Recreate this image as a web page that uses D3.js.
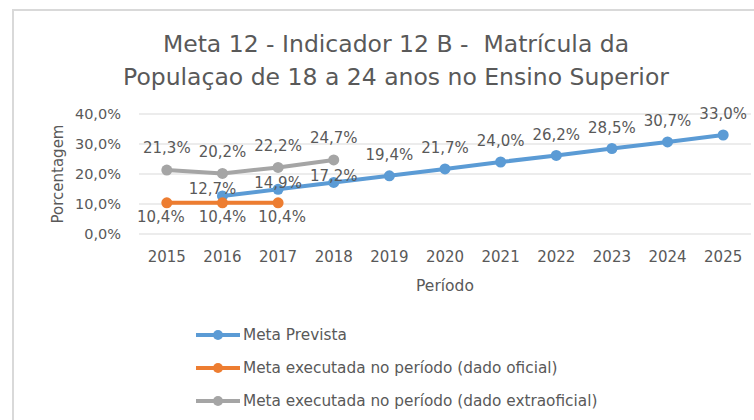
<!DOCTYPE html>
<html>
<head>
<meta charset="utf-8">
<script src="https://cdn.jsdelivr.net/npm/d3@7"></script>
<style>
  body { margin: 0; background: #fff; }
  text { font-family: "DejaVu Sans", sans-serif; fill: #595959; }
</style>
</head>
<body>
<svg id="chart" width="754" height="420"></svg>
<script>
// categories (years) and series values
const years = ['2015', '2016', '2017', '2018', '2019', '2020', '2021', '2022', '2023', '2024', '2025'];
const metaPrevista = [null, 12.7, 14.9, 17.2, 19.4, 21.7, 24.0, 26.2, 28.5, 30.7, 33.0];
const metaOficial = [10.4, 10.4, 10.4, null, null, null, null, null, null, null, null];
const metaExtraoficial = [21.3, 20.2, 22.2, 24.7, null, null, null, null, null, null, null];
const yTicks = [0, 10, 20, 30, 40];

const seriesNames = ['Meta Prevista', 'Meta executada no período (dado oficial)', 'Meta executada no período (dado extraoficial)'];
const seriesColors = ['#5b9bd5', '#ed7d31', '#a5a5a5'];

const svg = d3.select('#chart');
const fmt = v => d3.format('.1f')(v).replace('.', ',') + '%';

// outer border of the chart area
svg.append('rect')
    .attr('x', 13).attr('y', 10)
    .attr('width', 800).attr('height', 450)
    .attr('fill', 'none')
    .attr('stroke', '#d9d9d9')
    .attr('stroke-width', 2);

// title (two lines, keeps the double space)
const title = svg.append('text')
    .attr('text-anchor', 'middle')
    .style('font-size', '23.5px')
    .style('white-space', 'pre');
title.append('tspan').attr('x', 396).attr('y', 52).text('Meta 12 - Indicador 12 B -  Matrícula da');
title.append('tspan').attr('x', 396).attr('y', 85).text('Populaçao de 18 a 24 anos no Ensino Superior');

const x = d3.scaleBand().domain(years).range([139, 751]);
const y = d3.scaleLinear().domain([0, 40]).range([234, 114]);
const cx = d => x(d) + x.bandwidth() / 2;

// gridlines
svg.append('g').selectAll('line')
    .data(yTicks)
    .join('line')
    .attr('x1', 139).attr('x2', 751)
    .attr('y1', d => y(d)).attr('y2', d => y(d))
    .attr('stroke', '#d9d9d9')
    .attr('stroke-width', 1);

// y axis labels
svg.append('g').selectAll('text')
    .data(yTicks)
    .join('text')
    .attr('x', 121)
    .attr('y', d => y(d))
    .attr('dy', '0.35em')
    .attr('text-anchor', 'end')
    .style('font-size', '14.5px')
    .text(d => fmt(d));

// x axis labels
svg.append('g').selectAll('text')
    .data(years)
    .join('text')
    .attr('x', d => cx(d))
    .attr('y', 262)
    .attr('text-anchor', 'middle')
    .style('font-size', '15px')
    .text(d => d);

// axis titles
svg.append('text')
    .attr('transform', 'translate(63,174) rotate(-90)')
    .attr('text-anchor', 'middle')
    .style('font-size', '15px')
    .text('Porcentagem');
svg.append('text')
    .attr('x', 445).attr('y', 291)
    .attr('text-anchor', 'middle')
    .style('font-size', '15.5px')
    .text('Período');

// draw one line series with markers
function drawSeries(values, color) {
    const pts = years.map((yr, i) => ({ yr, v: values[i] })).filter(p => p.v !== null);
    const line = d3.line().x(p => cx(p.yr)).y(p => y(p.v));
    svg.append('path')
        .datum(pts)
        .attr('d', line)
        .attr('fill', 'none')
        .attr('stroke', color)
        .attr('stroke-width', 4)
        .attr('stroke-linejoin', 'round');
    svg.append('g').selectAll('circle')
        .data(pts)
        .join('circle')
        .attr('cx', p => cx(p.yr))
        .attr('cy', p => y(p.v))
        .attr('r', 5.5)
        .attr('fill', color);
    return pts;
}

const bluePts = drawSeries(metaPrevista, seriesColors[0]);
const orangePts = drawSeries(metaOficial, seriesColors[1]);
const grayPts = drawSeries(metaExtraoficial, seriesColors[2]);

// data labels
function labels(pts, dyFn, dxFn) {
    svg.append('g').selectAll('text')
        .data(pts)
        .join('text')
        .attr('x', (p, i) => cx(p.yr) + dxFn(p, i))
        .attr('y', p => y(p.v) + dyFn(p))
        .attr('dy', '0.35em')
        .attr('text-anchor', 'middle')
        .style('font-size', '15px')
        .text(p => fmt(p.v));
}
const hasGray = yr => metaExtraoficial[years.indexOf(yr)] !== null;
labels(grayPts, () => -22, () => 0);
labels(orangePts, () => 14, (p, i) => i === 0 ? -6 : (i === 2 ? 4 : 0));
labels(bluePts, p => hasGray(p.yr) ? -7 : -21, (p, i) => i === 0 ? -10 : 0);

// legend
const legend = svg.append('g').selectAll('g')
    .data(seriesNames)
    .join('g')
    .attr('transform', (d, i) => `translate(196,${335 + i * 33})`);
legend.append('line')
    .attr('x1', 0).attr('x2', 44)
    .attr('stroke', (d, i) => seriesColors[i])
    .attr('stroke-width', 4);
legend.append('circle')
    .attr('cx', 22).attr('r', 5)
    .attr('fill', (d, i) => seriesColors[i]);
legend.append('text')
    .attr('x', 47)
    .attr('dy', '0.35em')
    .style('font-size', '15.3px')
    .text(d => d);
</script>
</body>
</html>
